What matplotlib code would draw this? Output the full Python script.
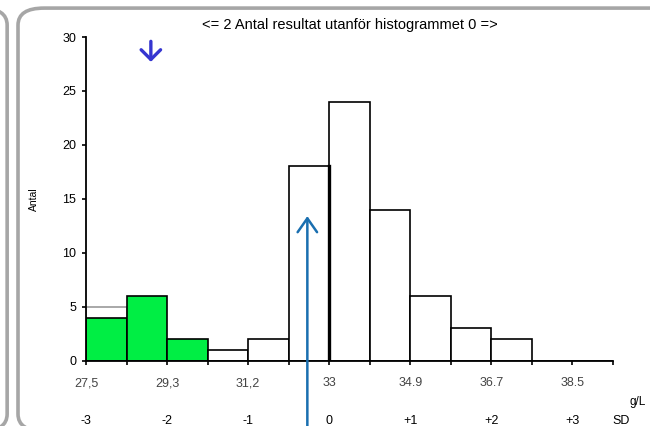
import matplotlib
matplotlib.use('Agg')
import matplotlib.pyplot as plt
from matplotlib.patches import FancyBboxPatch

plt.rcParams['font.family'] = ['Liberation Sans', 'DejaVu Sans']

# histogram counts per bin (13 bins)
counts = [4, 6, 2, 1, 2, 18, 24, 14, 6, 3, 2, 0, 0]
green_bins = [0, 1, 2]
prev_first = 5          # earlier count in the first bin, drawn as a grey outline
conc_labels = ['27,5', '29,3', '31,2', '33', '34.9', '36.7', '38.5']
sd_labels = ['-3', '-2', '-1', '0', '+1', '+2', '+3']
label_edges = [0, 2, 4, 6, 8, 10, 12]
result_pos = 5.46       # own result (up arrow)
low_marker = 1.6        # down arrow above the low bins

fig = plt.figure(figsize=(6.5, 4.26), dpi=100)

# rounded panel borders
fig.patches.append(FancyBboxPatch((0.0277, -0.012), 1.05, 0.993,
                                  boxstyle='round,pad=0,rounding_size=0.04',
                                  transform=fig.transFigure, fill=False,
                                  edgecolor='#a6a6a6', lw=2.6))
fig.patches.append(FancyBboxPatch((-0.5, -0.012), 0.511, 0.993,
                                  boxstyle='round,pad=0,rounding_size=0.04',
                                  transform=fig.transFigure, fill=False,
                                  edgecolor='#a6a6a6', lw=2.6))

ax = fig.add_axes([0.1323, 0.1533, 0.8108, 0.7598])

idx = list(range(len(counts)))
ax.bar([0], [prev_first], width=1, align='edge', facecolor='white',
       edgecolor='#999999', lw=1.2, zorder=1)
colors = ['#00ee44' if i in green_bins else 'white' for i in idx]
ax.bar(idx, counts, width=1, align='edge', color=colors,
       edgecolor='black', lw=1.2, zorder=2)
# heavier edge at the mean
ax.plot([6, 6], [0, counts[5]], color='black', lw=2.4, zorder=3)

ax.set_xlim(0, len(counts))
ax.set_ylim(0, 30)
ax.set_yticks(range(0, 31, 5))
ax.set_xticks(range(0, len(counts) + 1))
ax.set_xticklabels([])
for s in ['top', 'right']:
    ax.spines[s].set_visible(False)
for s in ['left', 'bottom']:
    ax.spines[s].set_linewidth(1.3)
ax.tick_params(axis='both', direction='out', length=3, width=1.2,
               labelsize=9, colors='black')
ax.tick_params(axis='y', pad=4)

for e, lab in zip(label_edges, conc_labels):
    ax.text(e, -2.1, lab, ha='center', va='center', fontsize=9, color='#444444')
for e, lab in zip(label_edges, sd_labels):
    ax.text(e, -5.55, lab, ha='center', va='center', fontsize=9, color='black')
ax.text(13.2, -5.55, 'SD', ha='center', va='center', fontsize=9)
ax.text(13.6, -3.85, 'g/L', ha='center', va='center', fontsize=8.5)

ax.set_ylabel('Antal', fontsize=7.5, labelpad=17)
ax.set_title('<= 2 Antal resultat utanför histogrammet 0 =>', fontsize=10.5, pad=6)

ax.annotate('', xy=(result_pos, 13.4), xytext=(result_pos, -6.3),
            arrowprops=dict(arrowstyle='->,head_length=1.0,head_width=0.7',
                            color='#1a6fb0', lw=1.8, shrinkA=0, shrinkB=0),
            annotation_clip=False, zorder=5)
ax.annotate('', xy=(low_marker, 27.7), xytext=(low_marker, 29.6),
            arrowprops=dict(arrowstyle='->,head_length=0.7,head_width=0.7',
                            color='#3535d0', lw=2.4, shrinkA=0, shrinkB=0),
            annotation_clip=False, zorder=5)

fig.savefig('out.png', dpi=100)
